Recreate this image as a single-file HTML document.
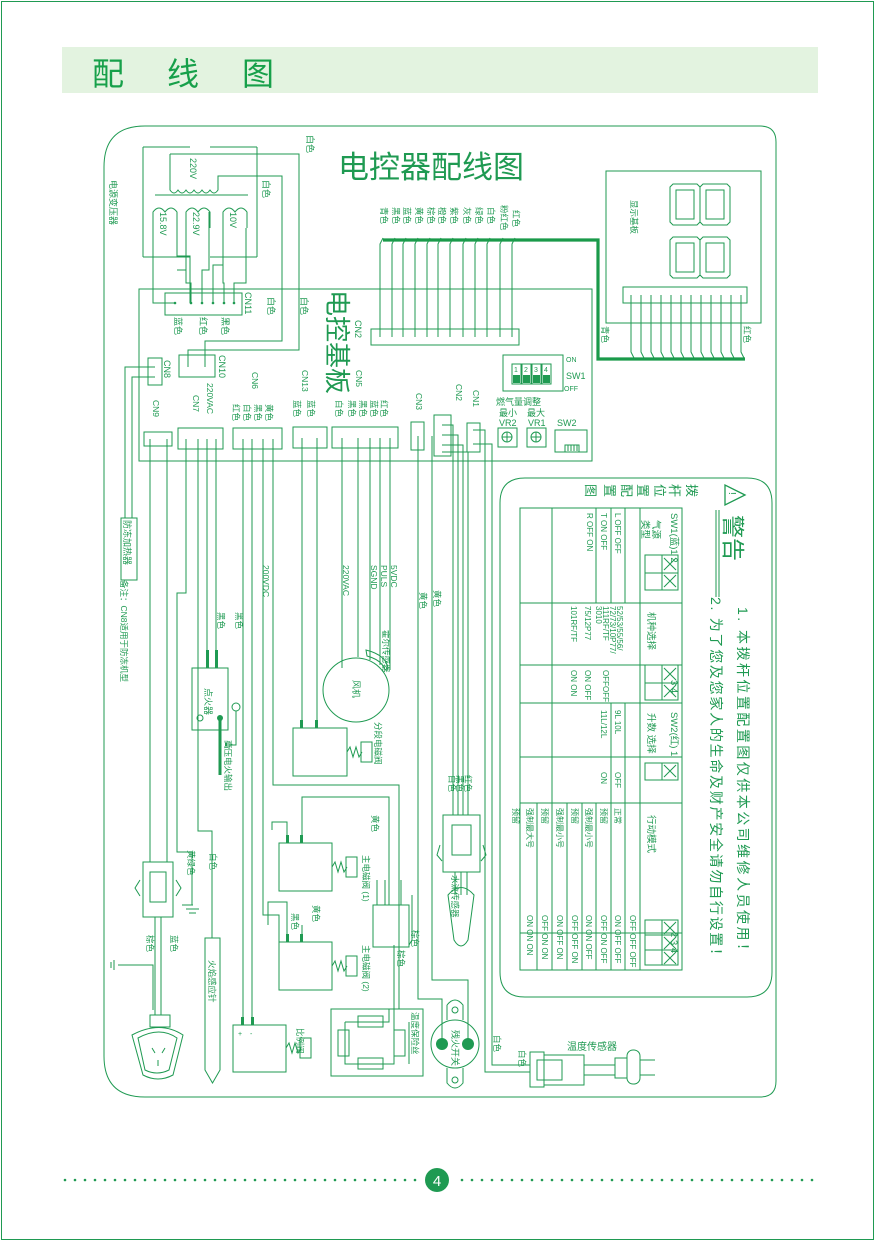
<!DOCTYPE html>
<html><head><meta charset="utf-8"><style>
html,body{margin:0;padding:0;background:#fff}
svg{display:block}
text{font-family:"Liberation Sans","Noto Sans CJK SC",sans-serif;fill:#1f9a52}
.w{stroke:#1f9a52;stroke-width:1;fill:none}
.t{stroke:#1f9a52;stroke-width:1.3;fill:none}
</style></head><body>
<svg width="875" height="1241" viewBox="0 0 875 1241" xmlns="http://www.w3.org/2000/svg">
<rect x="1.5" y="1.5" width="872" height="1238" fill="none" stroke="#1f9a52" stroke-width="1"/>
<rect x="62" y="47" width="756" height="46" fill="#e3f3e0"/>
<text x="92" y="85" font-size="32" style="fill:#17a04a">配</text>
<text x="167" y="85" font-size="32" style="fill:#17a04a">线</text>
<text x="242" y="85" font-size="32" style="fill:#17a04a">图</text>

<!-- main frame -->
<path class="w" d="M145,126 H760 Q776,126 776,142 V1081 Q776,1097 760,1097 H145 Q104,1097 104,1056 V167 Q104,126 145,126 Z"/>
<text x="338" y="178" font-size="31" style="fill:#1f9a52">电控器配线图</text>

<!-- transformer -->
<g class="w">
<path d="M143,147 H190 M210,147 H257 M143,147 V257 M257,147 V257 M143,257 H190 M210,257 H257"/>
<path d="M170,154 H299 V350 H188 V367"/>
<path d="M170,154 V190 q4,6 8,0 q4,6 8,0 q4,6 8,0 q4,6 8,0 q4,6 8,0 q4,6 8,0 V176 H282 V341 H205 V367"/>
<path d="M155,195 H248"/>
<path d="M153,228 V212 q6,-8 12,0 q6,-8 12,0 V228 M186,228 V212 q6,-8 12,0 q6,-8 12,0 V228 M223,228 V212 q6,-8 12,0 q6,-8 12,0 V228"/>
<path d="M153,228 V303 H175 M177,228 V256 H190 V303 M186,212 V270 H177 M209,212 V270 H202 V303 M186,270 V283 H191 V303 M223,212 V265 H213 V303 M246,228 V283 H234 V303 M223,265 V283 H224 V303"/>
</g>
<text font-size="9" transform="translate(190,158) rotate(90)">220V</text>
<text font-size="9" transform="translate(160,212) rotate(90)">15.8V</text>
<text font-size="9" transform="translate(193,212) rotate(90)">22.9V</text>
<text font-size="9" transform="translate(230,212) rotate(90)">10V</text>
<text font-size="9" transform="translate(110,180) rotate(90)">电源变压器</text>
<text font-size="9" transform="translate(307,135) rotate(90)">白色</text>
<text font-size="9" transform="translate(263,180) rotate(90)">白色</text>
<text font-size="9" transform="translate(268,297) rotate(90)">白色</text>
<text font-size="9" transform="translate(301,297) rotate(90)">白色</text>

<!-- PCB -->
<rect class="w" x="139" y="289" width="453" height="172"/>
<text font-size="26" transform="translate(328,290) rotate(90)" style="fill:#1f9a52">电控基板</text>
<rect class="w" x="165" y="293" width="77" height="22"/>
<g fill="#1f9a52"><circle cx="175" cy="303" r="1.3"/><circle cx="191" cy="303" r="1.3"/><circle cx="202" cy="303" r="1.3"/><circle cx="213" cy="303" r="1.3"/><circle cx="224" cy="303" r="1.3"/><circle cx="234" cy="303" r="1.3"/></g>
<text font-size="9" transform="translate(245,292) rotate(90)">CN11</text>
<text font-size="9" transform="translate(175,317) rotate(90)">蓝色</text>
<text font-size="9" transform="translate(200,317) rotate(90)">红色</text>
<text font-size="9" transform="translate(222,317) rotate(90)">黑色</text>
<rect class="w" x="179" y="355" width="36" height="22"/>
<text font-size="9" transform="translate(219,355) rotate(90)">CN10</text>
<rect class="w" x="148" y="358" width="14" height="27"/>
<text font-size="9" transform="translate(164,360) rotate(90)">CN8</text>
<path class="w" d="M155,367 H125 V518 M155,377 H132 V518"/>

<!-- CN2 top -->
<rect class="w" x="371" y="329" width="148" height="16"/>
<text font-size="9" transform="translate(355,320) rotate(90)">CN2</text>
<g class="w">
<path d="M380,337 V244 L383,238 M392,337 V244 L395,238 M403,337 V244 L406,238 M415,337 V244 L418,238 M427,337 V244 L430,238 M438,337 V244 L441,238 M450,337 V244 L453,238 M463,337 V244 L466,238 M475,337 V244 L478,238 M487,337 V244 L490,238 M500,337 V244 L503,238 M512,337 V244 L515,238"/>
</g>
<g font-size="8.5">
<text transform="translate(381,207) rotate(90)">青色</text>
<text transform="translate(393,207) rotate(90)">黑色</text>
<text transform="translate(404,207) rotate(90)">蓝色</text>
<text transform="translate(416,207) rotate(90)">黄色</text>
<text transform="translate(428,207) rotate(90)">棕色</text>
<text transform="translate(439,207) rotate(90)">橙色</text>
<text transform="translate(451,207) rotate(90)">紫色</text>
<text transform="translate(464,207) rotate(90)">灰色</text>
<text transform="translate(476,207) rotate(90)">绿色</text>
<text transform="translate(488,207) rotate(90)">白色</text>
<text transform="translate(501,205) rotate(90)">粉红色</text>
<text transform="translate(513,210) rotate(90)">红色</text>
</g>
<path d="M383,240 H598 V359 H745" fill="none" stroke="#1a9a4a" stroke-width="3.2"/>

<!-- display -->
<rect class="w" x="606" y="171" width="155" height="152"/>
<text font-size="8.5" transform="translate(631,200) rotate(90)">显示基板</text>
<g class="w">
<path d="M670,187 L673,184 H697 L700,187 L703,184 H727 L730,187 V222 L727,225 H703 L700,222 L697,225 H673 L670,222 Z M676,190 H694 V219 H676 Z M706,190 H724 V219 H706 Z M700,187 V222"/>
<path d="M670,240 L673,237 H697 L700,240 L703,237 H727 L730,240 V275 L727,278 H703 L700,275 L697,278 H673 L670,275 Z M676,243 H694 V272 H676 Z M706,243 H724 V272 H706 Z M700,240 V275"/>
</g>
<rect class="w" x="623" y="287" width="124" height="16"/>
<g class="w">
<path d="M631,295 V352 L634,358 M641,295 V352 L644,358 M651,295 V352 L654,358 M661,295 V352 L664,358 M671,295 V352 L674,358 M681,295 V352 L684,358 M691,295 V352 L694,358 M701,295 V352 L704,358 M711,295 V352 L714,358 M721,295 V352 L724,358 M731,295 V352 L734,358 M741,295 V352 L744,358"/>
</g>
<text font-size="8.5" transform="translate(602,326) rotate(90)">青色</text>
<text font-size="8.5" transform="translate(744,326) rotate(90)">红色</text>

<!-- SW1 -->
<rect class="w" x="503" y="355" width="60" height="36"/>
<rect class="w" x="512" y="364" width="9" height="20"/><rect class="w" x="522" y="364" width="9" height="20"/><rect class="w" x="532" y="364" width="9" height="20"/><rect class="w" x="542" y="364" width="9" height="20"/>
<g font-size="7"><text x="514" y="372">1</text><text x="524" y="372">2</text><text x="534" y="372">3</text><text x="544" y="372">4</text></g>
<rect x="513" y="375" width="7" height="8" fill="#1f9a52"/><rect x="523" y="375" width="7" height="8" fill="#1f9a52"/><rect x="533" y="375" width="7" height="8" fill="#1f9a52"/><rect x="543" y="375" width="7" height="8" fill="#1f9a52"/>
<text font-size="7" x="566" y="362">ON</text><text font-size="9" x="566" y="379">SW1</text><text font-size="7" x="564" y="391">OFF</text>
<text font-size="9" x="496" y="405">燃气量调整</text>
<text font-size="9" x="499" y="416">最小</text><text font-size="9" x="527" y="416">最大</text>
<text font-size="9" x="499" y="426">VR2</text><text font-size="9" x="528" y="426">VR1</text>
<text font-size="9" x="557" y="426">SW2</text>
<rect class="w" x="498" y="428" width="19" height="19"/><circle class="w" cx="507" cy="437" r="5"/><path class="w" d="M502,437 H512 M507,432 V442"/>
<rect class="w" x="527" y="428" width="19" height="19"/><circle class="w" cx="536" cy="437" r="5"/><path class="w" d="M531,437 H541 M536,432 V442"/>
<rect class="w" x="555" y="430" width="32" height="22"/><path class="w" d="M565,452 V445 H579 V452 M568,445 V451 M571,445 V451 M574,445 V451 M577,445 V451"/>

<!-- lower connectors -->
<g class="w">
<rect x="144" y="432" width="28" height="14"/>
<rect x="178" y="428" width="45" height="21"/>
<rect x="233" y="428" width="49" height="21"/>
<rect x="293" y="427" width="34" height="21"/>
<rect x="332" y="427" width="66" height="21"/>
<rect x="411" y="422" width="13" height="28"/>
<rect x="434" y="415" width="17" height="41"/>
<rect x="467" y="423" width="13" height="29"/>
</g>
<g font-size="8.5">
<text transform="translate(153,400) rotate(90)">CN9</text>
<text transform="translate(193,395) rotate(90)">CN7</text>
<text transform="translate(207,383) rotate(90)">220VAC</text>
<text transform="translate(252,372) rotate(90)">CN6</text>
<text transform="translate(302,370) rotate(90)">CN13</text>
<text transform="translate(356,370) rotate(90)">CN5</text>
<text transform="translate(416,393) rotate(90)">CN3</text>
<text transform="translate(456,384) rotate(90)">CN2</text>
<text transform="translate(473,390) rotate(90)">CN1</text>
<text transform="translate(233,404) rotate(90)">红色</text>
<text transform="translate(244,404) rotate(90)">白色</text>
<text transform="translate(255,404) rotate(90)">黑色</text>
<text transform="translate(266,404) rotate(90)">黄色</text>
<text transform="translate(294,400) rotate(90)">蓝色</text>
<text transform="translate(308,400) rotate(90)">蓝色</text>
<text transform="translate(336,400) rotate(90)">白色</text>
<text transform="translate(349,400) rotate(90)">黑色</text>
<text transform="translate(360,400) rotate(90)">黑色</text>
<text transform="translate(371,400) rotate(90)">蓝色</text>
<text transform="translate(381,400) rotate(90)">红色</text>
</g>

<!-- wires down -->
<g class="w">
<path d="M150,439 V862 M167,439 V862"/>
<path d="M186,439 V593 H177 V852 H192 V905"/>
<path d="M198,439 V831 H212 V938"/>
<path d="M207,439 V668 M216,439 V668"/>
<path d="M243,439 V1025 M252,439 V1025"/>
<path d="M263,439 V915 H279 V942"/>
<path d="M273,439 V785 H399 V1009"/>
<path d="M302,438 V728 M317,438 V728"/>
<path d="M342,438 V668 M358,438 V657 M370,438 V660 M380,438 V665 M390,438 V670"/>
<path d="M418,436 V999 H442 V1040"/>
<path d="M432,436 V980 H468 V1040"/>
<path d="M442,425 H453 V815 M442,435 H458 V815 M442,445 H463 V815 M442,452 H468 V815"/>
<path d="M473,430 H485 V1072 H530 M473,444 H492 V1065 H530"/>
</g>
<g font-size="8.5">
<text transform="translate(263,565) rotate(90)">200VDC</text>
<text transform="translate(343,565) rotate(90)">220VAC</text>
<text transform="translate(371,565) rotate(90)">SGND</text>
<text transform="translate(381,565) rotate(90)">PULS</text>
<text transform="translate(391,565) rotate(90)">5VDC</text>
<text transform="translate(420,592) rotate(90)">黄色</text>
<text transform="translate(434,590) rotate(90)">黄色</text>
<text transform="translate(218,612) rotate(90)">黑色</text>
<text transform="translate(236,612) rotate(90)">黑色</text>
<text transform="translate(383,630) rotate(90)">霍尔传感器</text>
<text transform="translate(375,722) rotate(90)">分段电磁阀</text>
<text transform="translate(465,775) rotate(90)">红色</text>
<text transform="translate(457,775) rotate(90)">黑色</text>
<text transform="translate(449,775) rotate(90)">白色</text>
<text transform="translate(372,815) rotate(90)">黄色</text>
<text transform="translate(363,855) rotate(90)">主电磁阀 (1)</text>
<text transform="translate(313,905) rotate(90)">黄色</text>
<text transform="translate(292,913) rotate(90)">黑色</text>
<text transform="translate(363,945) rotate(90)">主电磁阀 (2)</text>
<text transform="translate(398,950) rotate(90)">棕色</text>
<text transform="translate(412,930) rotate(90)">棕色</text>
<text transform="translate(452,875) rotate(90)">水流传感器</text>
<text transform="translate(210,853) rotate(90)">白色</text>
<text transform="translate(188,850) rotate(90)">黄绿色</text>
<text transform="translate(147,935) rotate(90)">棕色</text>
<text transform="translate(171,935) rotate(90)">蓝色</text>
<text transform="translate(209,960) rotate(90)">火焰感应针</text>
<text transform="translate(225,740) rotate(90)">高压电火输出</text>
<text transform="translate(297,1028) rotate(90)">比例阀</text>
<text transform="translate(412,1012) rotate(90)">温度保险丝</text>
<text transform="translate(494,1035) rotate(90)">白色</text>
<text transform="translate(519,1050) rotate(90)">白色</text>
<text transform="translate(121,580) rotate(90)">备注：CN8适用于防冻机型</text>
</g>
<text x="567" y="1050" font-size="10">温度传感器</text>

<!-- 防冻加热器 -->
<rect class="w" x="121" y="518" width="16" height="62"/>
<text font-size="9" transform="translate(124,520) rotate(90)">防冻加热器</text>

<!-- igniter -->
<rect class="w" x="192" y="668" width="36" height="62"/>
<rect x="206" y="650" width="3" height="18" fill="#1f9a52"/><rect x="215" y="650" width="3" height="18" fill="#1f9a52"/>
<text font-size="9" transform="translate(205,688) rotate(90)">点火器</text>
<circle class="w" cx="200" cy="718" r="3"/>
<path d="M220,718 V775" stroke="#1f9a52" stroke-width="3"/>
<circle cx="220" cy="718" r="3" fill="#1f9a52"/>
<circle class="w" cx="236" cy="707" r="4"/><path class="w" d="M236,711 V745 H229 M229,741 V749 M226,743 V747"/>

<!-- fan -->
<ellipse class="w" cx="356" cy="690" rx="33" ry="32"/>
<text font-size="9" transform="translate(353,680) rotate(90)">风机</text>
<path class="w" d="M366,650 q20,5 22,18 l-3,2 q-3,-10 -18,-14 Z"/>

<!-- solenoids -->
<g class="w">
<rect x="293" y="728" width="54" height="48"/><path d="M347,752 l3,-5 l3,10 l3,-10 l3,10 l3,-5"/><rect x="361" y="742" width="11" height="20"/>
<rect x="279" y="843" width="53" height="48"/><path d="M332,867 l3,-5 l3,10 l3,-10 l3,10 l3,-5"/><rect x="346" y="857" width="11" height="20"/>
<rect x="279" y="942" width="53" height="48"/><path d="M332,966 l3,-5 l3,10 l3,-10 l3,10 l3,-5"/><rect x="346" y="956" width="11" height="20"/>
<rect x="233" y="1025" width="53" height="47"/><path d="M286,1048 l3,-5 l3,10 l3,-10 l3,10 l3,-5"/><rect x="300" y="1038" width="11" height="20"/>
<path d="M302,728 V705 M317,728 V705"/>
<path d="M287,843 V822 H272 V830 M302,843 V797 H389 V905"/>
<path d="M287,942 V902 H268 V925 M302,942 V925"/>
<rect x="373" y="905" width="36" height="42"/><path d="M377,905 V880 M385,880 V905 M389,880 V905 M401,880 V905 M412,895 V940 L409,945"/>
</g>
<rect x="286" y="835" width="3" height="8" fill="#1f9a52"/><rect x="300" y="835" width="3" height="8" fill="#1f9a52"/>
<rect x="286" y="934" width="3" height="8" fill="#1f9a52"/><rect x="300" y="934" width="3" height="8" fill="#1f9a52"/>
<rect x="300" y="720" width="3" height="8" fill="#1f9a52"/><rect x="315" y="720" width="3" height="8" fill="#1f9a52"/>
<rect x="241" y="1017" width="3" height="8" fill="#1f9a52"/><rect x="251" y="1017" width="3" height="8" fill="#1f9a52"/>
<text x="238" y="1036" font-size="7">+</text><text x="250" y="1036" font-size="7">-</text>

<!-- thermal fuse -->
<g class="w">
<rect x="331" y="1009" width="92" height="67"/>
<path d="M345,1022 H389 V1009 M345,1022 V1064 H394 V945 M409,1022 V1064"/>
<rect x="358" y="1016" width="25" height="11"/><rect x="358" y="1058" width="25" height="11"/>
<rect x="338" y="1030" width="11" height="26"/><rect x="394" y="1030" width="11" height="26"/>
</g>

<!-- microswitch -->
<g class="w">
<circle cx="455" cy="1044" r="24"/>
<path d="M447,1005 q8,-10 16,0 V1020 M447,1005 V1020 M447,1068 V1083 q8,10 16,0 V1068"/>
<circle cx="455" cy="1010" r="3"/><circle cx="455" cy="1080" r="3"/>
</g>
<circle cx="442" cy="1044" r="6" fill="#1f9a52"/><circle cx="468" cy="1044" r="6" fill="#1f9a52"/>
<text font-size="9" transform="translate(452,1030) rotate(90)">残火开关</text>

<!-- water flow sensor -->
<g class="w">
<rect x="443" y="815" width="37" height="57"/><rect x="452" y="825" width="19" height="30"/>
<path d="M440,845 l-3,10 l5,6 M483,845 l3,10 l-5,6"/>
<path d="M455,872 V895 M461,872 V895 M467,872 V895"/>
<path d="M448,895 q13,-15 26,0 l-6,45 q-7,12 -14,0 Z"/>
</g>

<!-- plug -->
<g class="w">
<rect x="143" y="862" width="30" height="55"/><rect x="150" y="872" width="16" height="30"/>
<path d="M140,880 l-5,8 l5,8 M176,880 l5,8 l-5,8"/>
<path d="M155,917 V1015 M161,917 V1015 M118,965 H153 V1010"/>
<path d="M114,960 V970 M111,962 V968"/>
<path d="M150,1015 h20 v12 h-20 z M132,1035 q28,-15 51,0 l-10,40 q-15,8 -30,0 Z M138,1038 q22,-12 39,0 l-8,32 q-12,6 -24,0 Z"/>
<path d="M152,1048 l3,5 M165,1048 l-3,5 M158,1060 v6"/>
<path d="M182,905 H193 M186,909 H199 M189,913 H196"/>
</g>

<!-- flame needle -->
<path class="w" d="M205,938 H220 V1070 L212.5,1083 L205,1070 Z"/>

<!-- temp sensor -->
<g class="w">
<rect x="530" y="1052" width="14" height="35"/><rect x="537" y="1060" width="25" height="20"/><rect x="544" y="1055" width="40" height="30"/>
<path d="M584,1065 H615 M584,1075 H615"/>
<rect x="615" y="1058" width="12" height="20"/>
<rect x="627" y="1050" width="13" height="34" rx="6"/>
<path d="M640,1060 H655 M640,1075 H655"/>
</g>

<!-- warning box -->
<path class="w" d="M525,478 H747 Q772,478 772,503 V972 Q772,997 747,997 H525 Q500,997 500,972 V503 Q500,478 525,478 Z"/>
<path class="t" d="M745,495 L725,485 V505 Z"/>
<text font-size="10" transform="translate(729,492) rotate(90)">!</text>
<text font-size="23" transform="translate(725,515) rotate(90)">警告</text>
<path class="w" d="M719,510 V597 M716,510 V597"/>
<text font-size="14" transform="translate(738,607) rotate(90)" textLength="350">1. 本拨杆位置配置图仅供本公司维修人员使用！</text>
<text font-size="14" transform="translate(711,597) rotate(90)" textLength="365">2. 为了您及您家人的生命及财产安全请勿自行设置！</text>
<g font-size="13">
<text transform="translate(687,484) rotate(90)">拨</text>
<text transform="translate(670,484) rotate(90)">杆</text>
<text transform="translate(655,484) rotate(90)">位</text>
<text transform="translate(638,484) rotate(90)">置</text>
<text transform="translate(622,484) rotate(90)">配</text>
<text transform="translate(605,484) rotate(90)">置</text>
<text transform="translate(586,484) rotate(90)">图</text>
</g>
<!-- table -->
<g class="w">
<rect x="520" y="508" width="162" height="462"/>
<path d="M520,603 H682 M520,665 H682 M520,703 H682 M520,757 H682 M520,803 H682 M520,933 H682"/>
<path d="M640,508 V970"/>
<path d="M625,508 V603 M611,508 V603 M596,508 V603 M552,508 V603"/>
<path d="M552,603 V703"/>
<path d="M625,703 V803 M611,703 V803 M552,703 V803"/>
<path d="M625,803 V970 M611,803 V970 M596,803 V970 M582,803 V970 M567,803 V970 M552,803 V970 M537,803 V970"/>
<path d="M645,555 H678 V590 H645 Z M662,555 V590 M645,573 H678"/>
<path d="M645,665 H678 V700 H645 Z M662,665 V700 M645,683 H678"/>
<path d="M645,763 H678 V780 H645 Z M662,763 V780"/>
<path d="M645,920 H678 V965 H645 Z M662,920 V965 M645,935 H678 M645,950 H678"/>
<path d="M664,558 l12,12 M676,558 l-12,12 M664,575 l12,12 M676,575 l-12,12 M664,668 l12,12 M676,668 l-12,12 M664,685 l12,12 M676,685 l-12,12 M664,765 l12,12 M676,765 l-12,12 M664,922 l12,12 M676,922 l-12,12 M664,937 l12,12 M676,937 l-12,12 M664,952 l12,12 M676,952 l-12,12"/>
</g>
<g font-size="9.5">
<text transform="translate(671,513) rotate(90)">SW1(蓝)1 2</text>
<text transform="translate(671,680) rotate(90)">3 4</text>
<text transform="translate(671,712) rotate(90)">SW2(红)  1</text>
<text transform="translate(671,932) rotate(90)">2 3 4</text>
<text transform="translate(653,520) rotate(90)">气源</text>
<text transform="translate(642,520) rotate(90)">类型</text>
<text transform="translate(648,612) rotate(90)">机种选择</text>
<text transform="translate(648,713) rotate(90)">升数 选择</text>
<text transform="translate(648,815) rotate(90)">行动模式</text>
</g>
<g font-size="8">
<text transform="translate(615,513) rotate(90)">L          OFF OFF</text>
<text transform="translate(601,513) rotate(90)">T          ON  OFF</text>
<text transform="translate(587,513) rotate(90)">R          OFF  ON</text>
<text transform="translate(617,606) rotate(90)">52/53/55/56/</text>
<text transform="translate(610,606) rotate(90)">72/73/10P77/</text>
<text transform="translate(603,606) rotate(90)">111RF/TF</text>
<text transform="translate(596,606) rotate(90)">3010</text>
<text transform="translate(585,606) rotate(90)">75/12P77</text>
<text transform="translate(571,606) rotate(90)">101RF/TF</text>
<text transform="translate(603,670) rotate(90)">OFFOFF</text>
<text transform="translate(585,670) rotate(90)">ON OFF</text>
<text transform="translate(571,670) rotate(90)">ON  ON</text>
<text transform="translate(615,710) rotate(90)">9L  10L</text>
<text transform="translate(601,710) rotate(90)">11L/12L</text>
<text transform="translate(615,772) rotate(90)">OFF</text>
<text transform="translate(601,772) rotate(90)">ON</text>
<text transform="translate(615,808) rotate(90)">正常</text>
<text transform="translate(601,808) rotate(90)">预留</text>
<text transform="translate(586,808) rotate(90)">强制最小号</text>
<text transform="translate(572,808) rotate(90)">预留</text>
<text transform="translate(557,808) rotate(90)">强制最小号</text>
<text transform="translate(542,808) rotate(90)">预留</text>
<text transform="translate(527,808) rotate(90)">强制最大号</text>
<text transform="translate(513,808) rotate(90)">预留</text>
<text transform="translate(630,915) rotate(90)">OFF  OFF  OFF</text>
<text transform="translate(615,915) rotate(90)">ON   OFF  OFF</text>
<text transform="translate(601,915) rotate(90)">OFF  ON   OFF</text>
<text transform="translate(586,915) rotate(90)">ON   ON   OFF</text>
<text transform="translate(572,915) rotate(90)">OFF  OFF  ON</text>
<text transform="translate(557,915) rotate(90)">ON   OFF  ON</text>
<text transform="translate(542,915) rotate(90)">OFF  ON   ON</text>
<text transform="translate(527,915) rotate(90)">ON   ON   ON</text>
</g>

<!-- footer -->
<g fill="#1f9a52">
<circle cx="65" cy="1180" r="1.3"/><circle cx="75" cy="1180" r="1.3"/><circle cx="85" cy="1180" r="1.3"/><circle cx="95" cy="1180" r="1.3"/><circle cx="105" cy="1180" r="1.3"/><circle cx="115" cy="1180" r="1.3"/><circle cx="125" cy="1180" r="1.3"/><circle cx="135" cy="1180" r="1.3"/><circle cx="145" cy="1180" r="1.3"/><circle cx="155" cy="1180" r="1.3"/><circle cx="165" cy="1180" r="1.3"/><circle cx="175" cy="1180" r="1.3"/><circle cx="185" cy="1180" r="1.3"/><circle cx="195" cy="1180" r="1.3"/><circle cx="205" cy="1180" r="1.3"/><circle cx="215" cy="1180" r="1.3"/><circle cx="225" cy="1180" r="1.3"/><circle cx="235" cy="1180" r="1.3"/><circle cx="245" cy="1180" r="1.3"/><circle cx="255" cy="1180" r="1.3"/><circle cx="265" cy="1180" r="1.3"/><circle cx="275" cy="1180" r="1.3"/><circle cx="285" cy="1180" r="1.3"/><circle cx="295" cy="1180" r="1.3"/><circle cx="305" cy="1180" r="1.3"/><circle cx="315" cy="1180" r="1.3"/><circle cx="325" cy="1180" r="1.3"/><circle cx="335" cy="1180" r="1.3"/><circle cx="345" cy="1180" r="1.3"/><circle cx="355" cy="1180" r="1.3"/><circle cx="365" cy="1180" r="1.3"/><circle cx="375" cy="1180" r="1.3"/><circle cx="385" cy="1180" r="1.3"/><circle cx="395" cy="1180" r="1.3"/><circle cx="405" cy="1180" r="1.3"/><circle cx="415" cy="1180" r="1.3"/>
<circle cx="462" cy="1180" r="1.3"/><circle cx="472" cy="1180" r="1.3"/><circle cx="482" cy="1180" r="1.3"/><circle cx="492" cy="1180" r="1.3"/><circle cx="502" cy="1180" r="1.3"/><circle cx="512" cy="1180" r="1.3"/><circle cx="522" cy="1180" r="1.3"/><circle cx="532" cy="1180" r="1.3"/><circle cx="542" cy="1180" r="1.3"/><circle cx="552" cy="1180" r="1.3"/><circle cx="562" cy="1180" r="1.3"/><circle cx="572" cy="1180" r="1.3"/><circle cx="582" cy="1180" r="1.3"/><circle cx="592" cy="1180" r="1.3"/><circle cx="602" cy="1180" r="1.3"/><circle cx="612" cy="1180" r="1.3"/><circle cx="622" cy="1180" r="1.3"/><circle cx="632" cy="1180" r="1.3"/><circle cx="642" cy="1180" r="1.3"/><circle cx="652" cy="1180" r="1.3"/><circle cx="662" cy="1180" r="1.3"/><circle cx="672" cy="1180" r="1.3"/><circle cx="682" cy="1180" r="1.3"/><circle cx="692" cy="1180" r="1.3"/><circle cx="702" cy="1180" r="1.3"/><circle cx="712" cy="1180" r="1.3"/><circle cx="722" cy="1180" r="1.3"/><circle cx="732" cy="1180" r="1.3"/><circle cx="742" cy="1180" r="1.3"/><circle cx="752" cy="1180" r="1.3"/><circle cx="762" cy="1180" r="1.3"/><circle cx="772" cy="1180" r="1.3"/><circle cx="782" cy="1180" r="1.3"/><circle cx="792" cy="1180" r="1.3"/><circle cx="802" cy="1180" r="1.3"/><circle cx="812" cy="1180" r="1.3"/>
<circle cx="437" cy="1180" r="12"/>
</g>
<text x="437" y="1186" font-size="15" text-anchor="middle" style="fill:#fff">4</text>
</svg>
</body></html>
